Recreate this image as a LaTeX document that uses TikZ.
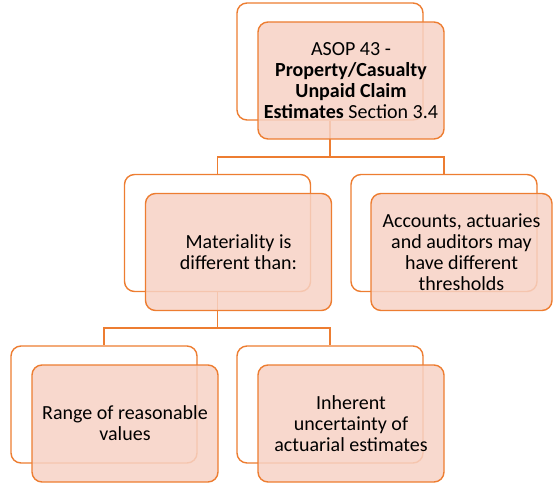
\documentclass[tikz,border=0pt]{standalone}
\usepackage{fontspec}
\setmainfont{Carlito}
\definecolor{accent}{RGB}{237, 125, 49}
\definecolor{salmon}{RGB}{247, 210, 197}
\usepackage{tikz}
\begin{document}
\begin{tikzpicture}[x=1pt, y=-1pt,
        backbox/.style={draw=accent, line width=1.4pt, rounded corners=10pt, fill=white, minimum width=186pt, minimum height=117pt},
        frontbox/.style={backbox, fill=salmon, fill opacity=0.85, text opacity=1, align=center, font=\fontsize{20}{21.2}\selectfont},
        link/.style={draw=accent, line width=1.4pt}
      ]
        \useasboundingbox (0,0) rectangle (553,484);
        \node[backbox] (asopback) at (330,61.5) {};
        \node[backbox] (materialback) at (217.5,233) {};
        \node[backbox] (threshback) at (444,233) {};
        \node[backbox] (rangeback) at (104,404.5) {};
        \node[backbox] (uncertback) at (330,404.5) {};
        \coordinate (split1) at (330,157);
        \coordinate (split2) at (217.5,328);
        \draw[link] (asopback.south) -- (split1) -| (materialback.north);
        \draw[link] (split1) -| (threshback.north);
        \draw[link] (materialback.south) -- (split2) -| (rangeback.north);
        \draw[link] (split2) -| (uncertback.north);
        \node[frontbox] (asop) at (351,80.5) {ASOP 43 -\\\textbf{Property/Casualty}\\\textbf{Unpaid Claim}\\\textbf{Estimates} Section 3.4};
        \node[frontbox] (material) at (238.5,252) {Materiality is\\different than:};
        \node[frontbox, minimum width=181pt] (thresh) at (461.5,252) {Accounts, actuaries\\and auditors may\\have different\\thresholds};
        \node[frontbox] (range) at (125,423.5) {Range of reasonable\\values};
        \node[frontbox] (uncert) at (351,423.5) {Inherent\\uncertainty of\\actuarial estimates};
      \end{tikzpicture}
\end{document}
